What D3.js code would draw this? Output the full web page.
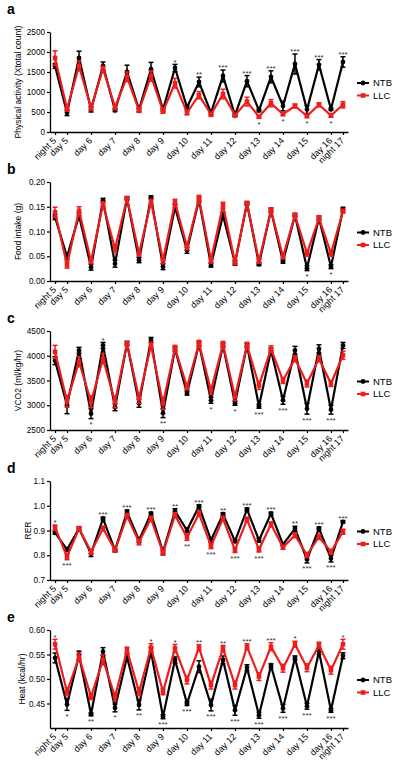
<!DOCTYPE html>
<html>
<head>
<meta charset="utf-8">
<script src="https://cdn.jsdelivr.net/npm/d3@7"></script>
<style>
  html, body { margin: 0; padding: 0; background: #fff; }
  svg { display: block; font-family: "Liberation Sans", Arial, sans-serif; }
</style>
</head>
<body>
<svg id="chart" width="400" height="765"></svg>
<script>
// ---- categories (time points) ----
const categories = ["night 5","day 5","night 6","day 6","night 7","day 7","night 8","day 8",
  "night 9","day 9","night 10","day 10","night 11","day 11","night 12","day 12",
  "night 13","day 13","night 14","day 14","night 15","day 15","night 16","day 16","night 17"];
const tickLabels = ["night 5","day 5","day 6","day 7","day 8","day 9","day 10","day 11",
  "day 12","day 13","day 14","day 15","day 16","night 17"];
const seriesNames = ["NTB", "LLC"];

// ---- a: Physical activity ----
const actNTB = [1650,480,1850,560,1650,550,1500,560,1570,560,1600,620,1250,480,1400,420,1270,540,1380,650,1700,560,1680,570,1750];
const actLLC = [1850,580,1650,600,1580,620,1380,540,1400,520,1220,480,920,440,950,420,760,380,720,450,650,400,680,410,680];
const actNTBerr = [60,70,170,60,100,40,170,50,170,40,90,40,120,40,150,30,140,30,150,120,250,100,130,30,130];
const actLLCerr = [180,60,120,50,60,60,120,50,130,50,120,50,90,50,120,40,110,30,90,40,50,40,50,40,80];
const actStarsTop = {10:"*",12:"**",14:"***",16:"***",18:"***",20:"***",22:"***",24:"***"};
const actStarsBottom = {17:"*",19:"*",21:"*",23:"*"};
const actTicks = [0,500,1000,1500,2000,2500];

// ---- b: Food intake ----
const foodNTB = [0.129,0.049,0.132,0.028,0.163,0.035,0.167,0.042,0.169,0.029,0.149,0.062,0.164,0.032,0.133,0.036,0.157,0.034,0.143,0.039,0.133,0.026,0.127,0.029,0.145];
const foodLLC = [0.139,0.032,0.142,0.040,0.155,0.065,0.167,0.055,0.160,0.042,0.159,0.069,0.167,0.042,0.153,0.038,0.157,0.040,0.143,0.049,0.133,0.056,0.127,0.056,0.141];
const foodNTBerr = [0.005,0.006,0.006,0.006,0.004,0.007,0.003,0.005,0.003,0.006,0.006,0.006,0.005,0.004,0.006,0.004,0.003,0.003,0.004,0.003,0.003,0.005,0.004,0.004,0.004];
const foodLLCerr = [0.010,0.006,0.008,0.005,0.005,0.008,0.004,0.005,0.005,0.007,0.006,0.006,0.006,0.006,0.006,0.005,0.004,0.004,0.005,0.004,0.004,0.006,0.005,0.006,0.004];
const foodStarsTop = {};
const foodStarsBottom = {21:"*",23:"*"};
const foodTicks = [0,0.05,0.10,0.15,0.20];

// ---- c: VCO2 ----
const vcoNTB = [3900,3000,4110,2830,4210,2960,4250,3040,4320,2840,4140,3245,4240,3100,4210,3040,4210,2980,4110,3100,4110,2930,4140,2910,4210];
const vcoLLC = [4080,3080,3880,3070,3940,3070,4250,3140,4210,3040,4150,3370,4250,3300,4230,3170,4210,3400,4140,3500,3940,3440,3940,3440,4010];
const vcoNTBerr = [80,170,60,100,60,70,40,80,50,90,40,40,40,60,40,40,40,40,40,80,80,110,80,90,60];
const vcoLLCerr = [130,120,100,120,100,120,40,100,60,120,60,60,60,80,60,80,60,80,60,60,60,70,60,60,80];
const vcoStarsTop = {4:"*"};
const vcoStarsBottom = {3:"*",9:"**",13:"*",15:"*",17:"***",19:"***",21:"***",23:"***"};
const vcoTicks = [2500,3000,3500,4000,4500];

// ---- d: RER ----
const rerNTB = [0.891,0.823,0.908,0.807,0.948,0.820,0.975,0.861,0.968,0.814,0.978,0.901,0.998,0.861,0.966,0.857,0.985,0.861,0.968,0.844,0.907,0.783,0.908,0.787,0.935];
const rerLLC = [0.912,0.794,0.908,0.814,0.908,0.820,0.958,0.854,0.948,0.810,0.962,0.872,0.968,0.837,0.948,0.821,0.944,0.823,0.925,0.832,0.881,0.801,0.874,0.814,0.895];
const rerNTBerr = [0.006,0.008,0.006,0.012,0.006,0.006,0.008,0.008,0.006,0.008,0.010,0.010,0.006,0.008,0.006,0.006,0.006,0.008,0.006,0.006,0.010,0.014,0.006,0.014,0.005];
const rerLLCerr = [0.010,0.012,0.008,0.010,0.010,0.006,0.010,0.012,0.010,0.010,0.010,0.012,0.010,0.010,0.010,0.010,0.010,0.010,0.010,0.008,0.010,0.010,0.010,0.010,0.010];
const rerStarsTop = {0:"*",4:"***",6:"***",8:"***",10:"**",12:"***",14:"**",16:"***",18:"***",20:"**",22:"***",24:"***"};
const rerStarsBottom = {1:"***",11:"**",13:"***",15:"***",17:"***",21:"***",23:"***"};
const rerTicks = [0.7,0.8,0.9,1.0,1.1];

// ---- e: Heat ----
const heatNTB = [0.543,0.448,0.549,0.428,0.556,0.441,0.545,0.447,0.556,0.423,0.539,0.450,0.525,0.447,0.539,0.436,0.523,0.426,0.527,0.440,0.543,0.4445,0.556,0.436,0.5475];
const heatLLC = [0.571,0.474,0.545,0.464,0.539,0.464,0.559,0.474,0.564,0.474,0.5625,0.498,0.564,0.4875,0.5625,0.4875,0.566,0.505,0.566,0.522,0.571,0.523,0.569,0.518,0.571];
const heatNTBerr = [0.010,0.012,0.008,0.003,0.008,0.008,0.006,0.010,0.008,0.004,0.006,0.004,0.012,0.012,0.008,0.010,0.006,0.006,0.004,0.008,0.004,0.006,0.006,0.004,0.006];
const heatLLCerr = [0.010,0.008,0.008,0.006,0.010,0.008,0.006,0.008,0.008,0.006,0.008,0.008,0.006,0.008,0.006,0.008,0.006,0.008,0.008,0.008,0.006,0.008,0.006,0.008,0.010];
const heatStarsTop = {0:"*",8:"*",10:"*",12:"**",14:"**",16:"***",18:"***",20:"*",24:"*"};
const heatStarsBottom = {1:"*",3:"**",5:"*",7:"**",9:"***",11:"***",13:"***",15:"***",17:"***",19:"***",21:"***",23:"***"};
const heatTicks = [0.45,0.50,0.55,0.60];

// ---- panel definitions ----
const panels = [
  {letter:"a", title:"Physical activity (Xtotal count)", ntb:actNTB, llc:actLLC, ntbErr:actNTBerr, llcErr:actLLCerr,
   top:actStarsTop, bottom:actStarsBottom, domain:[0,2500], ticks:actTicks, fmt:d3.format("d"), y0:32, y1:132, titleX:18},
  {letter:"b", title:"Food intake (g)", ntb:foodNTB, llc:foodLLC, ntbErr:foodNTBerr, llcErr:foodLLCerr,
   top:foodStarsTop, bottom:foodStarsBottom, domain:[0,0.20], ticks:foodTicks, fmt:d3.format(".2f"), y0:182, y1:281, titleX:18},
  {letter:"c", title:"VCO2 (ml/kg/hr)", ntb:vcoNTB, llc:vcoLLC, ntbErr:vcoNTBerr, llcErr:vcoLLCerr,
   top:vcoStarsTop, bottom:vcoStarsBottom, domain:[2500,4500], ticks:vcoTicks, fmt:d3.format("d"), y0:331, y1:430, titleX:18},
  {letter:"d", title:"RER", ntb:rerNTB, llc:rerLLC, ntbErr:rerNTBerr, llcErr:rerLLCerr,
   top:rerStarsTop, bottom:rerStarsBottom, domain:[0.7,1.1], ticks:rerTicks, fmt:d3.format(".1f"), y0:481, y1:580, titleX:28},
  {letter:"e", title:"Heat (kcal/hr)", ntb:heatNTB, llc:heatLLC, ntbErr:heatNTBerr, llcErr:heatLLCerr,
   top:heatStarsTop, bottom:heatStarsBottom, domain:[0.40,0.60], ticks:heatTicks, fmt:d3.format(".2f"), y0:630, y1:728, titleX:22}
];

const svg = d3.select("#chart");
const BLACK = "#000", RED = "#ee1c1c";
const x = d3.scalePoint().domain(categories).range([50, 348]).padding(0.42);

panels.forEach(p => {
  const g = svg.append("g");
  const y = d3.scaleLinear().domain(p.domain).range([p.y1, p.y0]);

  // panel letter
  g.append("text").attr("x", 7).attr("y", p.y0 - (p.letter==="a"?18:8))
    .attr("font-size", 14).attr("font-weight", "bold").text(p.letter);

  // y axis
  const ya = g.append("g").attr("transform", "translate(50,0)")
    .call(d3.axisLeft(y).tickValues(p.ticks).tickFormat(p.fmt).tickSize(3).tickPadding(2).tickSizeOuter(0));
  ya.select(".domain").attr("stroke-width", 1.3);
  ya.selectAll(".tick line").attr("stroke-width", 1.2);
  ya.selectAll(".tick text").attr("font-size", 8.2).attr("font-family", "Liberation Sans, Arial, sans-serif");

  // x axis
  const xa = g.append("g").attr("transform", `translate(0,${p.y1})`)
    .call(d3.axisBottom(x).tickValues(tickLabels).tickSize(3).tickSizeOuter(0));
  xa.select(".domain").attr("stroke-width", 1.3);
  xa.selectAll(".tick line").attr("stroke-width", 1.2);
  xa.selectAll(".tick text").attr("font-size", 9).attr("font-family", "Liberation Sans, Arial, sans-serif")
    .attr("text-anchor", "end").attr("x", 0).attr("y", 0).attr("dy", "0.35em")
    .attr("transform", "translate(-1,7) rotate(-45)");

  // y axis title
  const ym = (p.y0 + p.y1) / 2;
  g.append("text").attr("transform", `translate(${p.titleX},${ym}) rotate(-90)`)
    .attr("text-anchor", "middle").attr("dy", "0.35em").attr("font-size", 8.5).text(p.title);

  const series = [
    {name:"NTB", vals:p.ntb, err:p.ntbErr, color:BLACK, shape:"circle"},
    {name:"LLC", vals:p.llc, err:p.llcErr, color:RED, shape:"square"}
  ];
  const line = d3.line().x((d, i) => x(categories[i])).y(d => y(d));

  series.forEach(s => {
    const sg = g.append("g");
    // error bars
    s.vals.forEach((v, i) => {
      const cx = x(categories[i]);
      const yt = y(v + s.err[i]), yb = y(v - s.err[i]);
      sg.append("line").attr("x1", cx).attr("x2", cx).attr("y1", yt).attr("y2", yb)
        .attr("stroke", s.color).attr("stroke-width", 1.5);
      [yt, yb].forEach(yy => sg.append("line").attr("x1", cx - 2.5).attr("x2", cx + 2.5)
        .attr("y1", yy).attr("y2", yy).attr("stroke", s.color).attr("stroke-width", 1.5));
    });
    sg.append("path").datum(s.vals).attr("d", line).attr("fill", "none")
      .attr("stroke", s.color).attr("stroke-width", 2.2).attr("stroke-linejoin", "miter");
    s.vals.forEach((v, i) => {
      const cx = x(categories[i]), cy = y(v);
      if (s.shape === "circle") {
        sg.append("circle").attr("cx", cx).attr("cy", cy).attr("r", 2.4).attr("fill", s.color);
      } else {
        sg.append("rect").attr("x", cx - 2.3).attr("y", cy - 2.3).attr("width", 4.6).attr("height", 4.6).attr("fill", s.color);
      }
    });
  });

  // significance stars
  Object.entries(p.top).forEach(([k, lab]) => {
    const i = +k;
    const top = Math.min(y(p.ntb[i] + p.ntbErr[i]), y(p.llc[i] + p.llcErr[i]));
    g.append("text").attr("x", x(categories[i])).attr("y", top + 0.2).attr("text-anchor", "middle")
      .attr("font-size", 8).attr("fill", "#333").text(lab);
  });
  Object.entries(p.bottom).forEach(([k, lab]) => {
    const i = +k;
    const bot = Math.max(y(p.ntb[i] - p.ntbErr[i]), y(p.llc[i] - p.llcErr[i]));
    g.append("text").attr("x", x(categories[i])).attr("y", bot + 8.5).attr("text-anchor", "middle")
      .attr("font-size", 8).attr("fill", "#333").text(lab);
  });

  // legend
  series.forEach((s, k) => {
    const ly = ym + 1 + k * 12.5;
    g.append("line").attr("x1", 357).attr("x2", 369).attr("y1", ly).attr("y2", ly)
      .attr("stroke", s.color).attr("stroke-width", 2);
    if (s.shape === "circle") g.append("circle").attr("cx", 363).attr("cy", ly).attr("r", 2.4).attr("fill", s.color);
    else g.append("rect").attr("x", 360.7).attr("y", ly - 2.3).attr("width", 4.6).attr("height", 4.6).attr("fill", s.color);
    g.append("text").attr("x", 373).attr("y", ly).attr("dy", "0.35em").attr("font-size", 9.5).text(s.name);
  });
});
</script>
</body>
</html>
